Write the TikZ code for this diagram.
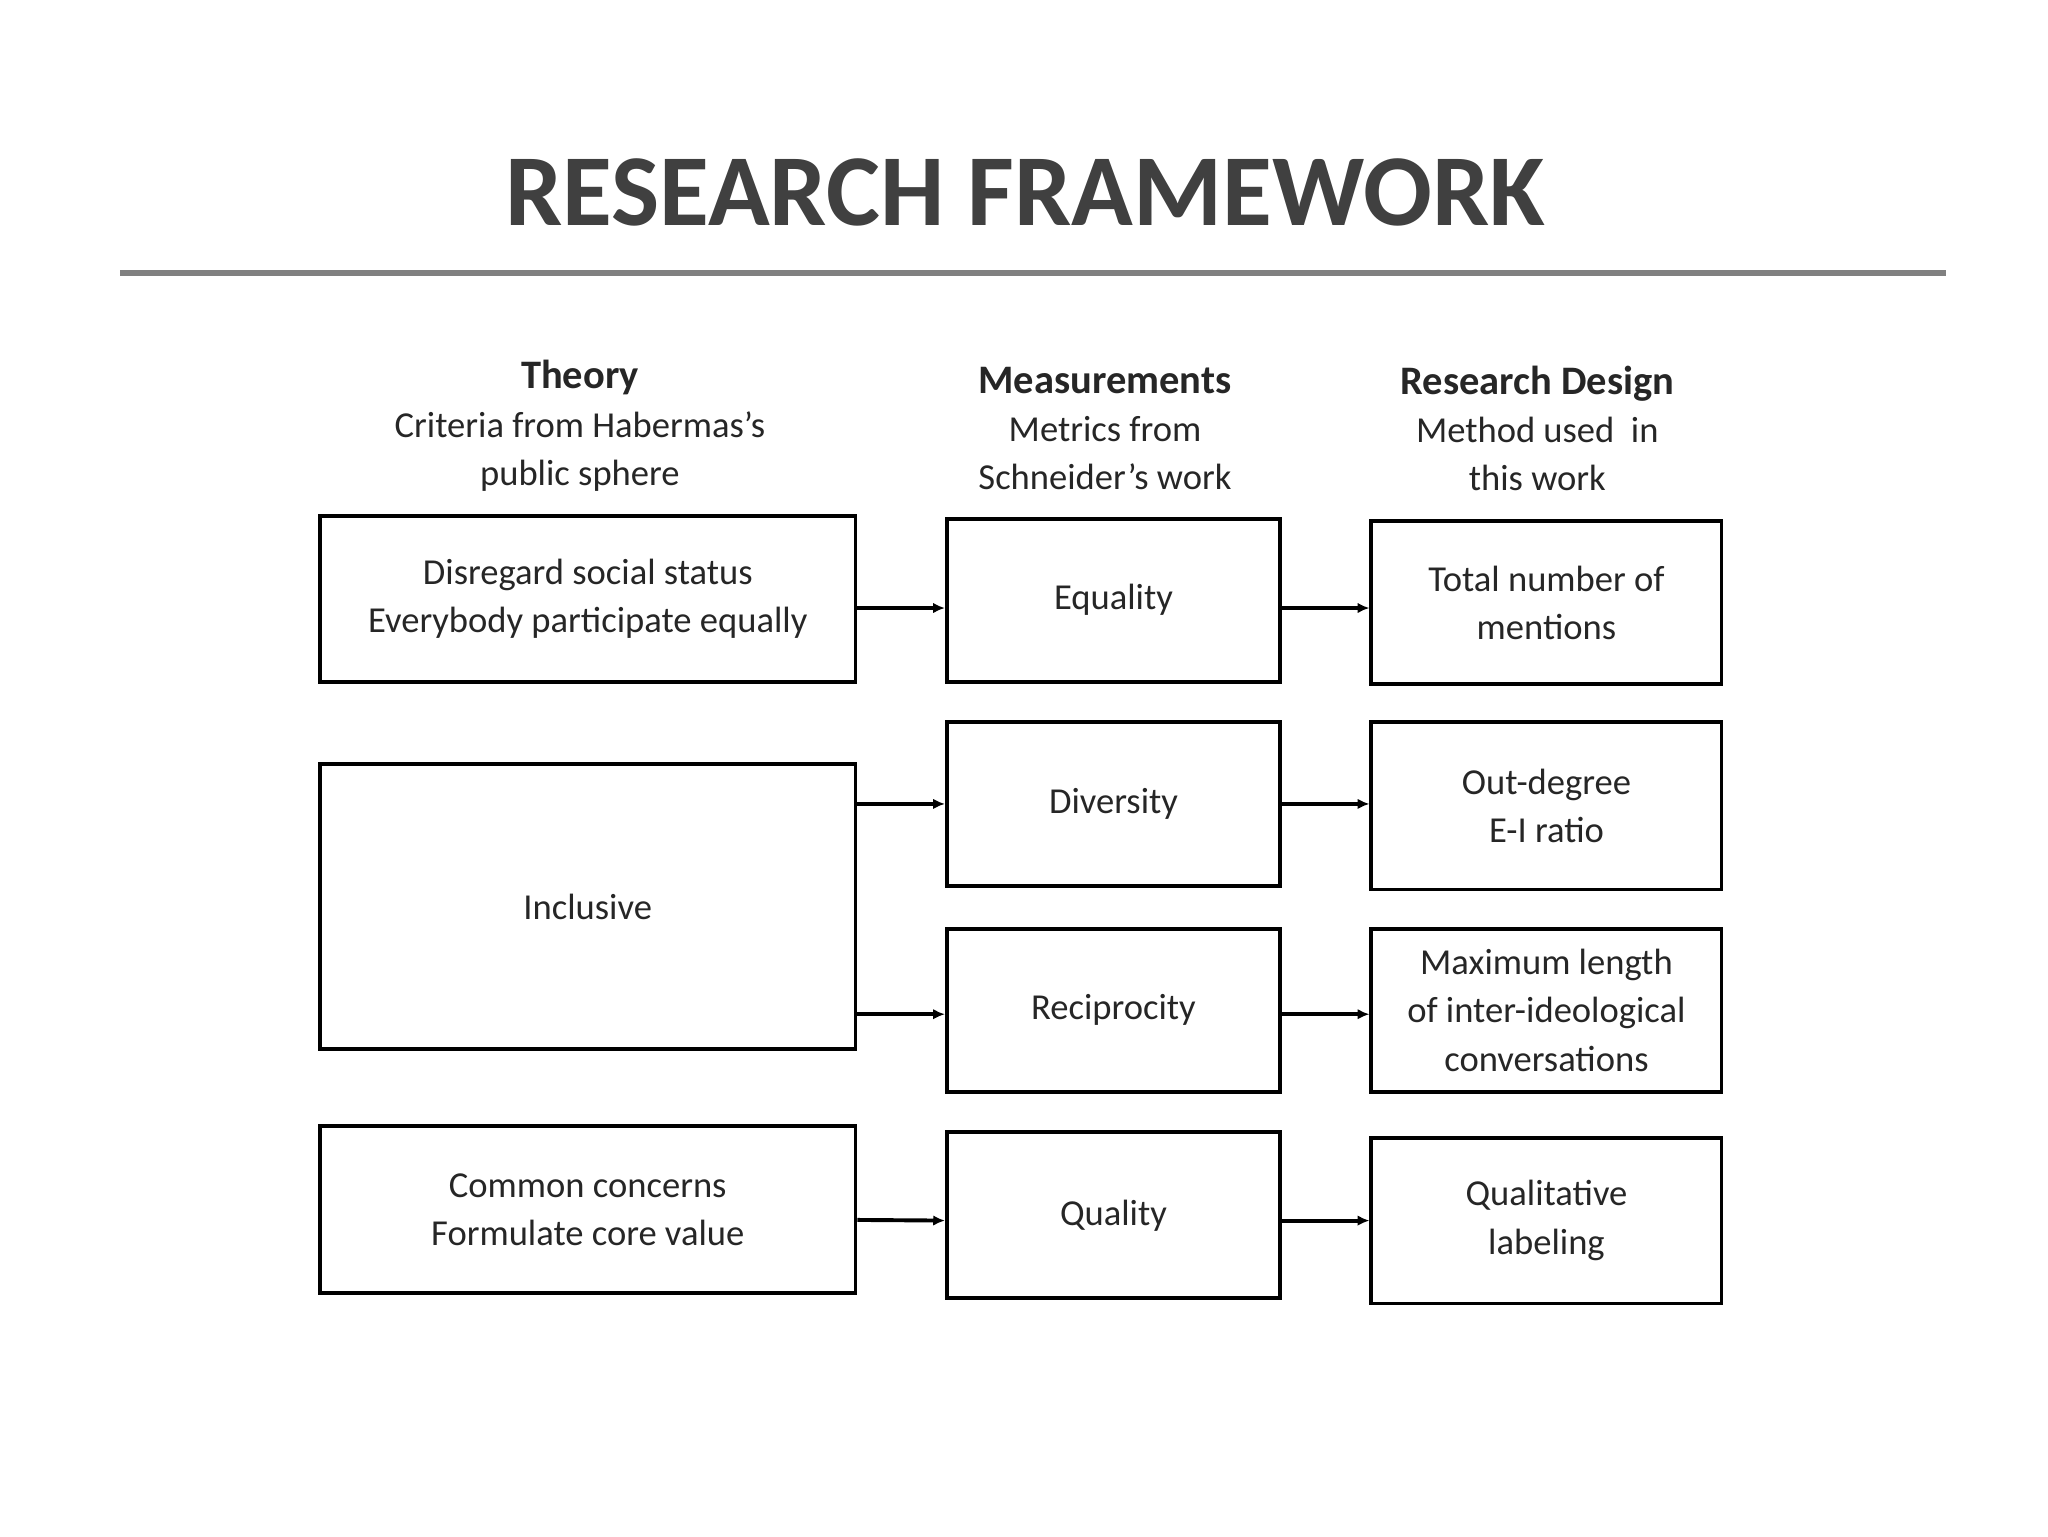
\documentclass[tikz,border=0pt]{standalone}
\usepackage{fontspec}
\setmainfont{Carlito}
\usetikzlibrary{arrows.meta,calc}
\begin{document}
\begin{tikzpicture}[x=1pt,y=-1pt,
  bx/.style={draw=black,line width=3pt,align=center,font=\fontsize{28}{37}\selectfont,text=black!85},
  hd/.style={align=center,font=\fontsize{28}{37}\selectfont,text=black!85},
  ar/.style={line width=3pt,-{Latex[length=9pt,width=8pt]}}]
\useasboundingbox (0,0) rectangle (1568,1176);
\node[font=\fontsize{78}{80}\selectfont\bfseries,text=black!75] (title) at (785,147) {RESEARCH FRAMEWORK};
\coordinate (rl) at (92,209); \coordinate (rr) at (1490,209);
\draw[line width=5pt,black!50] (rl) -- (rr);
\node[hd] (h1) at (444,326) {{\fontsize{31}{37}\selectfont\bfseries Theory}\\Criteria from Habermas’s\\public sphere};
\node[hd] (h2) at (846,328) {{\fontsize{31}{37}\selectfont\bfseries Measurements}\\Metrics from\\Schneider’s work};
\node[hd] (h3) at (1177,328) {{\fontsize{31}{37}\selectfont\bfseries Research Design}\\Method used~ in\\this work};
\node[bx,minimum width=410pt,minimum height=127pt] (t1) at (450,458.5) {Disregard social status\\Everybody participate equally};
\node[bx,minimum width=410pt,minimum height=218pt] (t2) at (450,694) {Inclusive};
\node[bx,minimum width=410pt,minimum height=128pt] (t3) at (450,926) {Common concerns\\Formulate core value};
\node[bx,minimum width=255pt,minimum height=125pt] (m1) at (852.5,459.5) {Equality};
\node[bx,minimum width=255pt,minimum height=125pt] (m2) at (852.5,615.5) {Diversity};
\node[bx,minimum width=255pt,minimum height=125pt] (m3) at (852.5,773.5) {Reciprocity};
\node[bx,minimum width=255pt,minimum height=127pt] (m4) at (852.5,930.5) {Quality};
\node[bx,minimum width=268pt,minimum height=125pt] (d1) at (1184,461.5) {Total number of\\mentions};
\node[bx,minimum width=268pt,minimum height=128pt] (d2) at (1184,617) {Out-degree\\E-I ratio};
\node[bx,minimum width=268pt,minimum height=125pt] (d3) at (1184,773.5) {Maximum length\\of inter-ideological\\conversations};
\node[bx,minimum width=268pt,minimum height=127pt] (d4) at (1184,934.5) {Qualitative\\labeling};
\draw[ar] ($(t1.east)+(0,7)$) -- ($(m1.west)+(0,6)$);
\draw[ar] (t2.east |- m2.west) -- (m2.west);
\draw[ar] ($(t2.east |- m3.west)+(0,3)$) -- ($(m3.west)+(0,3)$);
\draw[ar] ($(t3.east)+(0,8)$) -- ($(m4.west)+(0,4)$);
\draw[ar] ($(m1.east)+(0,6)$) -- ($(d1.west)+(0,4)$);
\draw[ar] (m2.east) -- (d2.west |- m2.east);
\draw[ar] ($(m3.east)+(0,3)$) -- ($(d3.west)+(0,3)$);
\draw[ar] ($(m4.east)+(0,4)$) -- ($(d4.west |- m4.east)+(0,4)$);
\end{tikzpicture}
\end{document}
